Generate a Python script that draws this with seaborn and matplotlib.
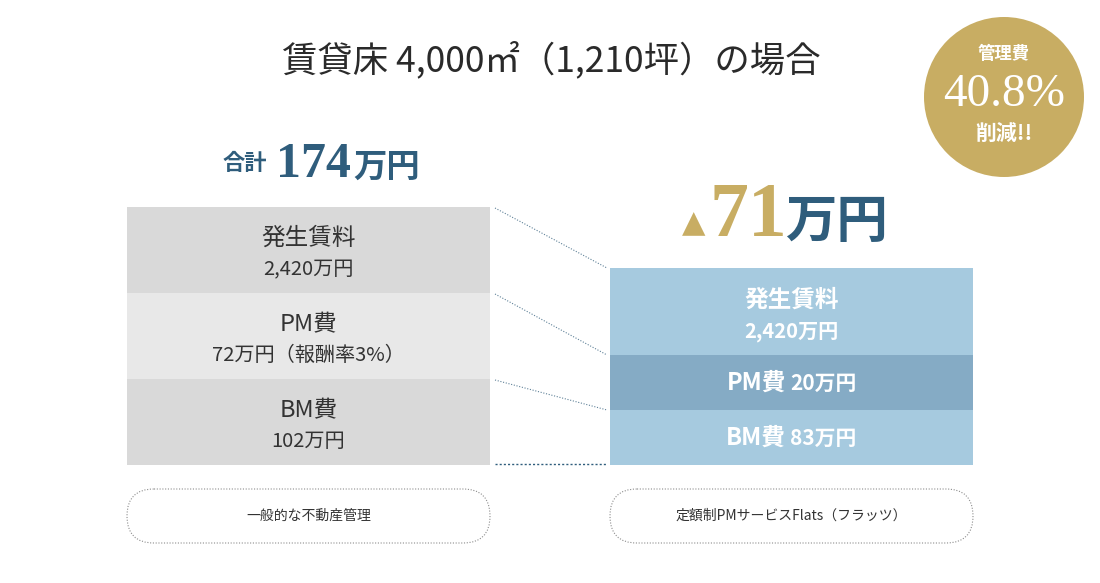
import matplotlib
matplotlib.use("Agg")
import matplotlib.pyplot as plt
from matplotlib.patches import Ellipse, FancyBboxPatch
import seaborn as sns
import pandas as pd
import numpy as np

# ---------------- data ----------------
categories = ["一般的な不動産管理", "定額制PMサービスFlats（フラッツ）"]
items = ["発生賃料", "PM費", "BM費"]
general_values = [2420, 72, 102]      # 万円
flats_values = [2420, 20, 83]         # 万円
pm_rate_label = "報酬率3%"
area_label = "賃貸床 4,000㎡（1,210坪）の場合"

general_cost = general_values[1] + general_values[2]          # 174
flats_cost = flats_values[1] + flats_values[2]                # 103
saving = general_cost - flats_cost                            # 71
saving_pct = saving / general_cost * 100                      # 40.8

# ---------------- layout (display only) ----------------
seg_heights = {categories[0]: [86, 86, 86], categories[1]: [87, 55, 55]}  # px, top->bottom
colors_general = ["#d9d9d9", "#e8e8e8", "#d9d9d9"]
colors_flats = ["#a6cadf", "#85abc5", "#a6cadf"]
NAVY = "#2f5d7c"
GOLD = "#c8ad63"
DARK = "#333333"
BAR_W = 363 / 483
PX = 1 / 483  # one pixel in category units

sns.set_theme(style="white")
plt.rcParams["font.family"] = ["Noto Sans CJK JP", "DejaVu Sans"]

fig = plt.figure(figsize=(11, 5.83), dpi=100)
ax = fig.add_axes([0, 0, 1, 1])

# stacked bars via overlapping cumulative bars (top level first)
for lvl in range(3):
    cum = [sum(seg_heights[c][lvl:]) for c in categories]
    df = pd.DataFrame({"cat": categories, "h": cum})
    sns.barplot(data=df, x="cat", y="h", hue="cat", order=categories,
                hue_order=categories,
                palette=[colors_general[lvl], colors_flats[lvl]],
                width=BAR_W, saturation=1, legend=False, ax=ax,
                linewidth=0, edgecolor="none")
ax.set_xlim(-308.5 * PX, (1100 - 308.5) * PX)
ax.set_ylim(-(583 - 465), 465)
ax.axis("off")

def seg_center(cat, lvl):
    h = seg_heights[cat]
    bottom = sum(h[lvl + 1:])
    return bottom + h[lvl] / 2

# left block labels
c0 = categories[0]
left_sub = [f"{general_values[0]:,}万円",
            f"{general_values[1]}万円（{pm_rate_label}）",
            f"{general_values[2]}万円"]
for lvl in range(3):
    yc = seg_center(c0, lvl)
    ax.text(0, yc + 11.5, items[lvl], ha="center", va="center", fontsize=17, color=DARK)
    ax.text(0, yc - 19.5, left_sub[lvl], ha="center", va="center", fontsize=14.5, color=DARK)

# right block labels
c1 = categories[1]
yc = seg_center(c1, 0)
ax.text(1, yc + 11.5, items[0], ha="center", va="center", fontsize=17, color="white", fontweight="bold")
ax.text(1, yc - 20.5, f"{flats_values[0]:,}万円", ha="center", va="center", fontsize=14.5,
        color="white", fontweight="bold")
for lvl in (1, 2):
    yc = seg_center(c1, lvl)
    ax.text(1 - 5.5 * PX, yc, items[lvl], ha="right", va="center", fontsize=17,
            color="white", fontweight="bold")
    ax.text(1 - 1.5 * PX, yc - 1, f"{flats_values[lvl]}万円", ha="left", va="center",
            fontsize=15, color="white", fontweight="bold")

# connector dotted lines
tops0 = [sum(seg_heights[c0][i:]) for i in range(3)] + [0]
tops1 = [sum(seg_heights[c1][i:]) for i in range(3)] + [0]
x_a = BAR_W / 2 + 5 * PX
x_b = 1 - BAR_W / 2 - 3 * PX
for i, (ya, yb) in enumerate(zip(tops0, tops1)):
    if i < 3:
        ax.plot([x_a, x_b], [ya - 1, yb], color="#5f8198", lw=0.8, ls=(0, (1, 1.5)))
    else:
        ax.plot([x_a, x_b], [ya + 1, yb + 1], color=NAVY, lw=1.0, ls=(0, (1.5, 1.5)))

# ---------------- decorations in pixel space ----------------
deco = fig.add_axes([0, 0, 1, 1], facecolor="none")
deco.set_xlim(0, 1100)
deco.set_ylim(583, 0)
deco.axis("off")

deco.text(551, 60, area_label, ha="center", va="center", fontsize=25.5, color="#2a2a2a")

# total for general
deco.text(245, 163, "合計", ha="center", va="center", fontsize=16, color=NAVY, fontweight="bold")
deco.text(276, 177, f"{general_cost}", ha="left", va="baseline", fontsize=36,
          color=NAVY, family="Liberation Serif", fontweight="bold")
deco.text(353, 177, "万円", ha="left", va="baseline", fontsize=24, color=NAVY, fontweight="bold")

# saving
deco.text(694, 232, "▲", ha="center", va="baseline", fontsize=22, color=GOLD, family="DejaVu Sans")
deco.text(709, 236, f"{saving}", ha="left", va="baseline", fontsize=56,
          color=GOLD, family="Liberation Serif", fontweight="bold")
deco.text(785, 237, "万円", ha="left", va="baseline", fontsize=37, color=NAVY, fontweight="bold")

# circle badge
deco.add_patch(Ellipse((1004, 97), 160, 160, facecolor=GOLD, edgecolor="none"))
deco.text(1004, 54, "管理費", ha="center", va="center", fontsize=12.5, color="white", fontweight="bold")
deco.text(1004, 95, f"{saving_pct:.1f}%", ha="center", va="center", fontsize=34,
          color="white", family="Liberation Serif")
deco.text(1004, 133, "削減!!", ha="center", va="center", fontsize=15, color="white", fontweight="bold")

# category pills
for cx, label in zip([308.5, 791.5], categories):
    deco.add_patch(FancyBboxPatch((cx - 181.5, 489), 363, 54,
                                  boxstyle="round,pad=0,rounding_size=27",
                                  facecolor="white", edgecolor="#8c8c8c",
                                  lw=0.8, ls=(0, (1, 1.5))))
    deco.text(cx, 516, label, ha="center", va="center", fontsize=10, color=DARK)

fig.savefig("out.png", dpi=100)
